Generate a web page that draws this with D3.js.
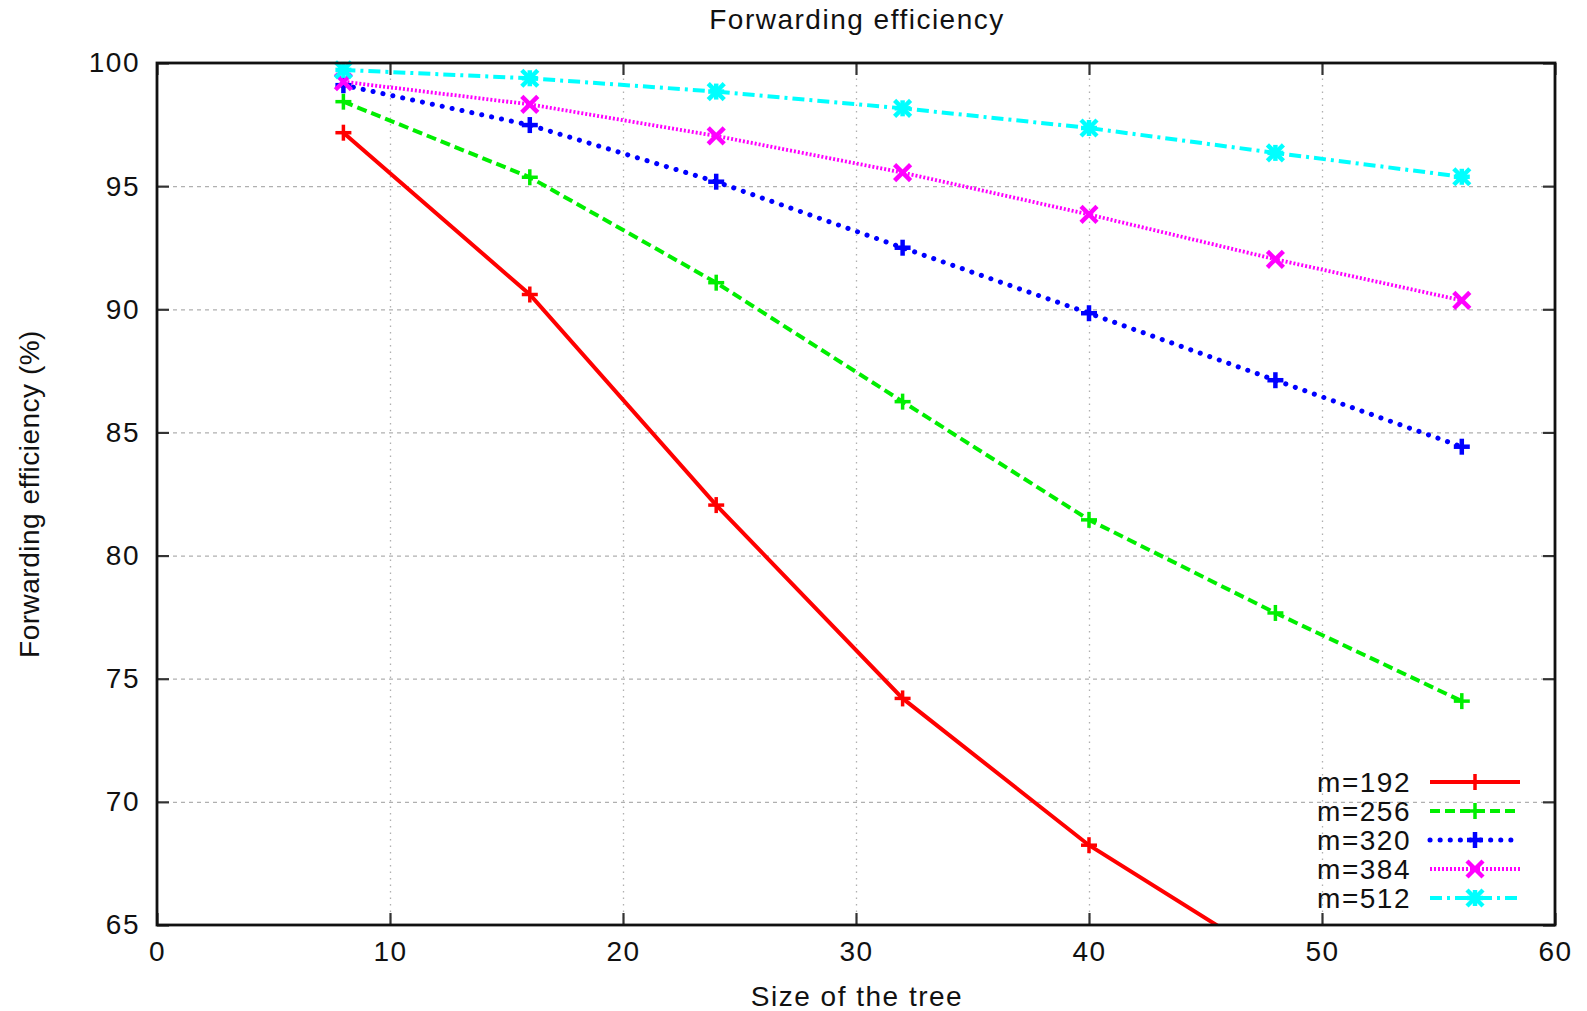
<!DOCTYPE html>
<html>
<head>
<meta charset="utf-8">
<script src="https://cdn.jsdelivr.net/npm/d3@7"></script>
<style>
  body { margin: 0; background: #fff; }
  svg { display: block; font-family: "Liberation Sans", Arial, sans-serif; }
  text { letter-spacing: 1.5px; }
  .axis path { display: none; }
  .axis line { stroke: #333; stroke-width: 2.2; }
  .axis text { font-size: 28px; fill: #111; }
  .grid line { stroke: #b0b0b0; stroke-width: 1.3; }
  .grid path { display: none; }
</style>
</head>
<body>
<div id="chart"></div>
<script>
// tree sizes on the x axis
var sizes = [8, 16, 24, 32, 40, 48, 56];

// forwarding efficiency (%) per m
var m192 = [97.17, 90.6, 82.05, 74.2, 68.24, 63.5, null];
var m256 = [98.43, 95.36, 91.08, 86.25, 81.45, 77.67, 74.09];
var m320 = [99.1, 97.48, 95.18, 92.5, 89.84, 87.12, 84.42];
var m384 = [99.24, 98.32, 97.04, 95.55, 93.85, 92.03, 90.36];
var m512 = [99.72, 99.38, 98.84, 98.16, 97.36, 96.35, 95.38];

var seriesNames = ["m=192", "m=256", "m=320", "m=384", "m=512"];
var xTicks = [0, 10, 20, 30, 40, 50, 60];
var yTicks = [65, 70, 75, 80, 85, 90, 95, 100];

var series = [
  {name: seriesNames[0], values: m192, color: "#ff0000", dash: null, width: 4, mark: "plus"},
  {name: seriesNames[1], values: m256, color: "#00ee00", dash: "10,5", width: 4, mark: "plus"},
  {name: seriesNames[2], values: m320, color: "#0000ff", dash: "0.1,10", width: 5, mark: "plusb", cap: "round"},
  {name: seriesNames[3], values: m384, color: "#ff00ff", dash: "2,2", width: 3.8, mark: "cross"},
  {name: seriesNames[4], values: m512, color: "#00ffff", dash: "12,5,3,5", width: 4, mark: "star"}
];

var W = 1587, H = 1011;
var margin = {top: 63, right: 32, bottom: 86, left: 157};
var width = W - margin.left - margin.right,
    height = H - margin.top - margin.bottom;

var svg = d3.select("#chart").append("svg")
    .attr("width", W)
    .attr("height", H);

var g = svg.append("g")
    .attr("transform", "translate(" + margin.left + "," + margin.top + ")");

var x = d3.scaleLinear().domain([0, 60]).range([0, width]);
var y = d3.scaleLinear().domain([65, 100]).range([height, 0]);

// grid
g.append("g")
    .attr("class", "grid")
    .call(d3.axisLeft(y).tickValues(yTicks.slice(1, -1)).tickSize(-width).tickFormat(""))
    .selectAll("line").attr("stroke-dasharray", "4,4");

g.append("g")
    .attr("class", "grid")
    .attr("transform", "translate(0," + height + ")")
    .call(d3.axisBottom(x).tickValues(xTicks.slice(1, -1)).tickSize(-height).tickFormat(""))
    .selectAll("line").attr("stroke-dasharray", "1.5,5");

// axes, ticks pointing inward
g.append("g")
    .attr("class", "axis")
    .call(d3.axisLeft(y).tickValues(yTicks).tickSizeInner(-12).tickSizeOuter(0).tickPadding(17));

g.append("g")
    .attr("class", "axis")
    .attr("transform", "translate(0," + height + ")")
    .call(d3.axisBottom(x).tickValues(xTicks).tickSizeInner(-12).tickSizeOuter(0).tickPadding(16));

g.append("g")
    .attr("class", "axis")
    .attr("transform", "translate(" + width + ",0)")
    .call(d3.axisRight(y).tickValues(yTicks).tickSizeInner(-12).tickSizeOuter(0).tickFormat(""));

g.append("g")
    .attr("class", "axis")
    .call(d3.axisTop(x).tickValues(xTicks).tickSizeInner(-12).tickSizeOuter(0).tickFormat(""));

// clip
svg.append("defs").append("clipPath").attr("id", "clip")
  .append("rect").attr("width", width).attr("height", height);

var line = d3.line()
    .defined(function(d) { return d.v != null; })
    .x(function(d) { return x(d.s); })
    .y(function(d) { return y(d.v); });

function pts(s) {
  return sizes.map(function(v, i) { return {s: v, v: s.values[i]}; });
}

var plotArea = g.append("g").attr("clip-path", "url(#clip)");

series.forEach(function(s) {
  plotArea.append("path")
      .attr("d", line(pts(s)))
      .attr("fill", "none")
      .attr("stroke", s.color)
      .attr("stroke-width", s.width)
      .attr("stroke-linecap", s.cap || "butt")
      .attr("stroke-dasharray", s.dash);
});

function marker(sel, type, color, cx, cy) {
  var r = 8, w = 3.5;
  var segs = [];
  if (type == "plus" || type == "plusb" || type == "star") {
    segs.push([cx - r, cy, cx + r, cy], [cx, cy - r, cx, cy + r]);
  }
  if (type == "cross" || type == "star") {
    segs.push([cx - r, cy - r, cx + r, cy + r], [cx - r, cy + r, cx + r, cy - r]);
  }
  if (type == "plusb" || type == "cross" || type == "star") w = 4.5;
  segs.forEach(function(q) {
    sel.append("line")
        .attr("x1", q[0]).attr("y1", q[1]).attr("x2", q[2]).attr("y2", q[3])
        .attr("stroke", color).attr("stroke-width", w);
  });
}

series.forEach(function(s) {
  var mg = g.append("g");
  pts(s).filter(function(d) { return d.v != null && d.v >= 65; }).forEach(function(d) {
    marker(mg, s.mark, s.color, x(d.s), y(d.v));
  });
});

// border
g.append("rect")
    .attr("width", width).attr("height", height)
    .attr("fill", "none").attr("stroke", "#111").attr("stroke-width", 2.8);

// legend
var legend = svg.append("g");
series.forEach(function(s, i) {
  var ly = 782 + i * 29;
  legend.append("text")
      .attr("x", 1411).attr("y", ly).attr("dy", "0.35em")
      .attr("text-anchor", "end")
      .style("font-size", "28px").attr("fill", "#111")
      .text(s.name);
  legend.append("line")
      .attr("x1", 1430).attr("x2", 1520).attr("y1", ly).attr("y2", ly)
      .attr("stroke", s.color).attr("stroke-width", s.width)
      .attr("stroke-linecap", s.cap || "butt")
      .attr("stroke-dasharray", s.dash);
  marker(legend, s.mark, s.color, 1475, ly);
});

// titles
svg.append("text")
    .attr("x", 857).attr("y", 29)
    .attr("text-anchor", "middle")
    .style("font-size", "28px").attr("fill", "#111")
    .text("Forwarding efficiency");

svg.append("text")
    .attr("x", 857).attr("y", 1006)
    .attr("text-anchor", "middle")
    .style("font-size", "28px").attr("fill", "#111")
    .text("Size of the tree");

svg.append("text")
    .attr("transform", "translate(39," + (margin.top + height / 2) + ") rotate(-90)")
    .attr("text-anchor", "middle")
    .style("font-size", "28px").style("letter-spacing", "0.5px").attr("fill", "#111")
    .text("Forwarding efficiency (%)");
</script>
</body>
</html>
